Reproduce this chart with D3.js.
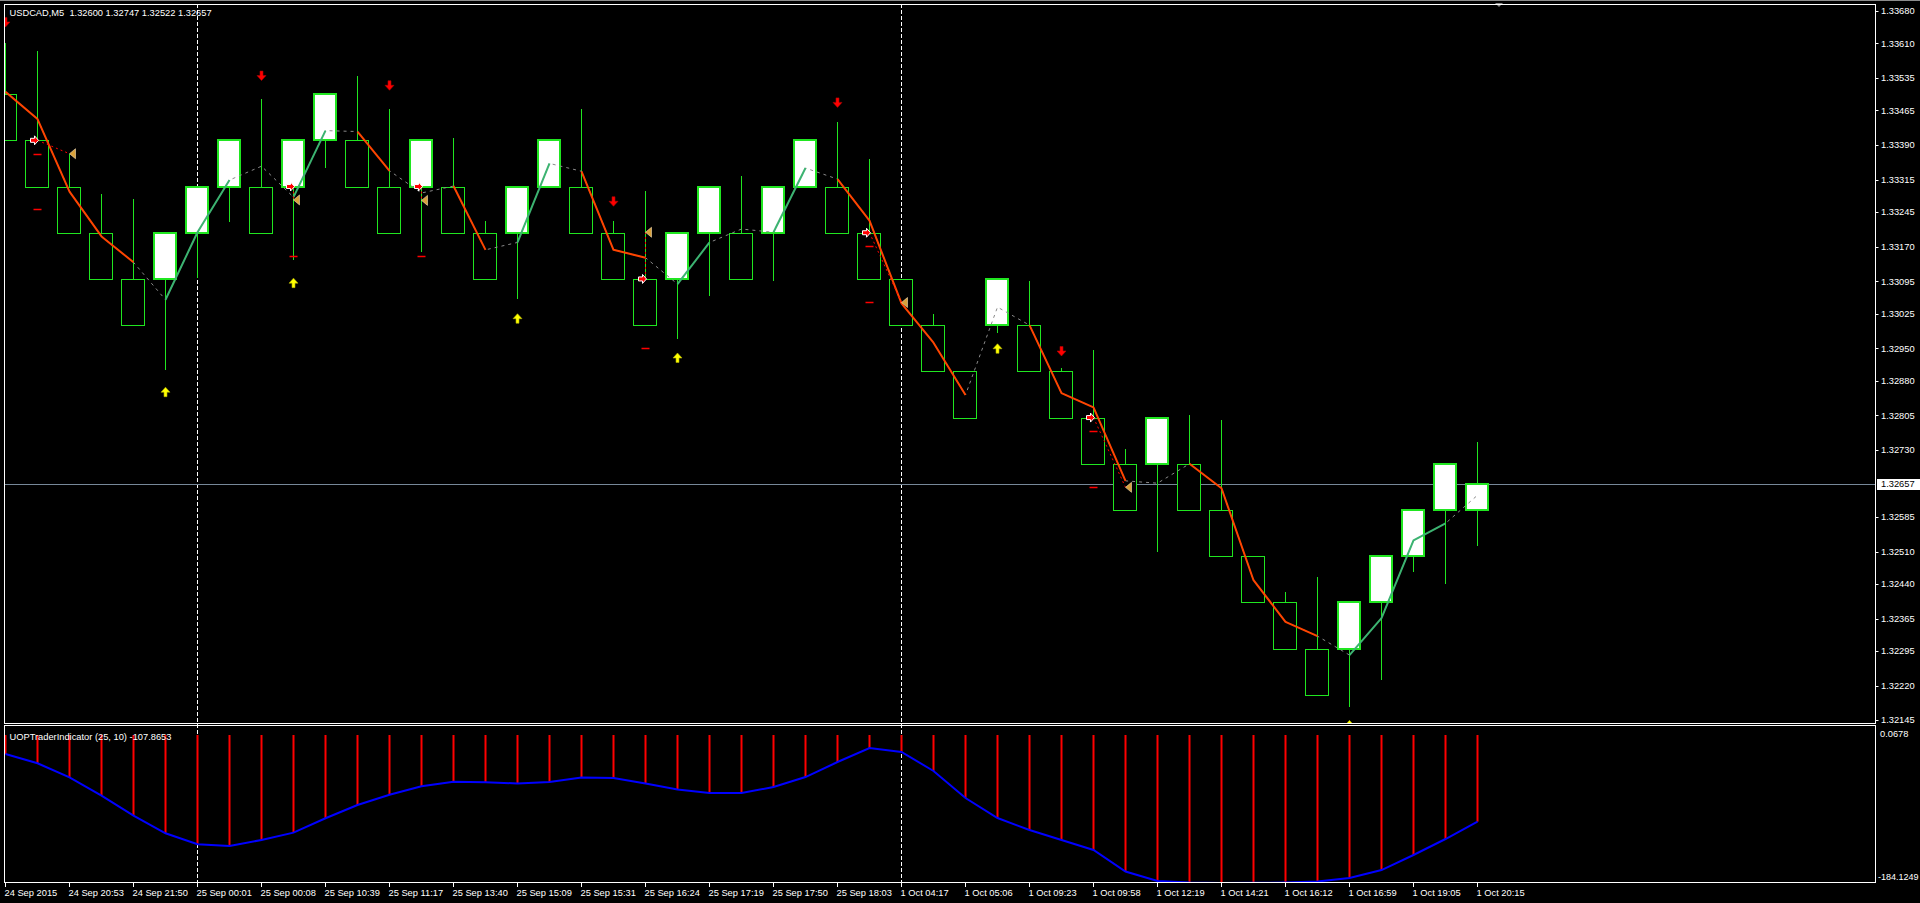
<!DOCTYPE html>
<html>
<head>
<meta charset="utf-8">
<script src="https://cdn.jsdelivr.net/npm/d3@7"></script>
<style>
  html, body { margin: 0; padding: 0; background: #000; overflow: hidden; }
  svg { display: block; }
  text { font-family: "Liberation Sans", Arial, sans-serif; font-size: 9.3px; fill: #fff; white-space: pre; }
</style>
</head>
<body>
<svg id="chart"></svg>
<script>
// ---- data ----
const chartTitle = 'USDCAD,M5  1.32600 1.32747 1.32522 1.32657';
const indTitle = 'UOPTraderIndicator (25, 10) -107.8653';

const opens  = [1.3350, 1.3340, 1.3330, 1.3320, 1.3310, 1.3310, 1.3320, 1.3330, 1.3330, 1.3330,
                1.3340, 1.3340, 1.3330, 1.3330, 1.3330, 1.3320, 1.3320, 1.3330, 1.3330, 1.3320,
                1.3310, 1.3310, 1.3320, 1.3320, 1.3320, 1.3330, 1.3330, 1.3320, 1.3310, 1.3300,
                1.3290, 1.3300, 1.3300, 1.3290, 1.3280, 1.3270, 1.3270, 1.3270, 1.3260, 1.3250,
                1.3240, 1.3230, 1.3230, 1.3240, 1.3250, 1.3260, 1.32600];
const highs  = [1.33610, 1.33594, 1.33371, 1.33284, 1.33273, 1.3320, 1.3330, 1.3340, 1.33490, 1.3340,
                1.3350, 1.33539, 1.33468, 1.3340, 1.33405, 1.33226, 1.3330, 1.3340, 1.33468, 1.33226,
                1.33290, 1.3320, 1.3330, 1.33323, 1.3330, 1.3340, 1.33440, 1.33360, 1.3310, 1.33024,
                1.3290, 1.3310, 1.33096, 1.32907, 1.32946, 1.32732, 1.3280, 1.32806, 1.32795, 1.3250,
                1.32423, 1.32455, 1.3240, 1.3250, 1.3260, 1.3270, 1.32747];
const lows   = [1.3340, 1.3330, 1.3320, 1.3310, 1.3300, 1.32902, 1.33103, 1.33224, 1.3320, 1.33141,
                1.33341, 1.3330, 1.3320, 1.33159, 1.3320, 1.3310, 1.33057, 1.3330, 1.3320, 1.3310,
                1.3300, 1.32970, 1.33064, 1.3310, 1.33095, 1.3330, 1.3320, 1.3310, 1.3300, 1.3290,
                1.3280, 1.32982, 1.3290, 1.3280, 1.3270, 1.3260, 1.32510, 1.3260, 1.3250, 1.3240,
                1.3230, 1.3220, 1.32174, 1.32231, 1.32466, 1.32440, 1.32522];
const closes = [1.3340, 1.3330, 1.3320, 1.3310, 1.3300, 1.3320, 1.3330, 1.3340, 1.3320, 1.3340,
                1.3350, 1.3330, 1.3320, 1.3340, 1.3320, 1.3310, 1.3330, 1.3340, 1.3320, 1.3310,
                1.3300, 1.3320, 1.3330, 1.3310, 1.3330, 1.3340, 1.3320, 1.3310, 1.3300, 1.3290,
                1.3280, 1.3310, 1.3290, 1.3280, 1.3270, 1.3260, 1.3280, 1.3260, 1.3250, 1.3240,
                1.3230, 1.3220, 1.3240, 1.3250, 1.3260, 1.3270, 1.32657];

// moving average line and the trend of each segment (d = falling, u = rising, n = flat)
const maValues = [1.33505, 1.33446, 1.33289, 1.33192, 1.33136, 1.33055, 1.33201, 1.33314, 1.33344, 1.33277,
                  1.33421, 1.33419, 1.33334, 1.33286, 1.33301, 1.33163, 1.33179, 1.33350, 1.33333, 1.33163,
                  1.33146, 1.33089, 1.33179, 1.33208, 1.33201, 1.33340, 1.33316, 1.33226, 1.33047, 1.32962,
                  1.32849, 1.33039, 1.33000, 1.32853, 1.32822, 1.32663, 1.32658, 1.32700, 1.32647, 1.32448,
                  1.32358, 1.32327, 1.32286, 1.32366, 1.32534, 1.32571, 1.32632];
const maTrend = 'ddddnuunnundnndnunddnunnunddddnnddd nnddddnuuun'.replace(/ /g, '').split('');

// signal arrows
const sellIdx   = [0, 8, 12, 19, 26, 33];
const sellLevel = [1.33655, 1.33539, 1.33518, 1.33267, 1.33481, 1.32943];
const buyIdx    = [5, 9, 16, 21, 31, 42];
const buyLevel  = [1.32856, 1.33092, 1.33015, 1.32930, 1.32950, 1.32135];

// trades: entry arrow, exit triangle, and level dashes
const tradeOpenIdx    = [1, 9, 13, 20, 27, 34];
const tradeOpenPrice  = [1.3340, 1.3330, 1.3330, 1.3310, 1.3320, 1.3280];
const tradeCloseIdx   = [2, 9, 13, 20, 28, 35];
const tradeClosePrice = [1.33371, 1.33271, 1.33270, 1.33201, 1.33049, 1.32649];
const dashIdx   = [1, 1, 9, 13, 20, 27, 27, 34, 34];
const dashPrice = [1.33370, 1.33251, 1.33149, 1.33149, 1.32950, 1.33171, 1.33050, 1.32770, 1.32650];

// oscillator
const indValues = [-23.6, -35.2, -52.6, -75.5, -100.4, -122.3, -136.0, -138.1, -130.6, -121.5,
                   -103.6, -87.1, -74.3, -63.8, -58.1, -58.8, -60.3, -58.5, -52.9, -53.5,
                   -60.3, -67.8, -72.2, -72.2, -64.7, -52.3, -33.6, -16.2, -21.1, -44.8,
                   -78.4, -103.3, -118.2, -130.6, -143.1, -169.8, -181.6, -183.5, -184.1249, -183.9,
                   -183.5, -182.3, -177.9, -168.0, -149.3, -129.4, -107.8653];
const indMax = 0.0678, indMin = -184.1249;

const priceTicks = [1.33680, 1.33610, 1.33535, 1.33465, 1.33390, 1.33315, 1.33245, 1.33170, 1.33095,
                    1.33025, 1.32950, 1.32880, 1.32805, 1.32730, 1.32585, 1.32510, 1.32440, 1.32365,
                    1.32295, 1.32220, 1.32145];
const lastPrice = 1.32657;
const timeLabels = ['24 Sep 2015', '24 Sep 20:53', '24 Sep 21:50', '25 Sep 00:01', '25 Sep 00:08',
                    '25 Sep 10:39', '25 Sep 11:17', '25 Sep 13:40', '25 Sep 15:09', '25 Sep 15:31',
                    '25 Sep 16:24', '25 Sep 17:19', '25 Sep 17:50', '25 Sep 18:03', '1 Oct 04:17',
                    '1 Oct 05:06', '1 Oct 09:23', '1 Oct 09:58', '1 Oct 12:19', '1 Oct 14:21',
                    '1 Oct 16:12', '1 Oct 16:59', '1 Oct 19:05', '1 Oct 20:15'];
const separatorIdx = [6, 28];

// ---- layout ----
const W = 1920, H = 903;
const left = 4, right = 1875;
const mainTop = 4, mainBottom = 723;
const indTop = 725, indBottom = 882;
const green = '#20e620';

const svg = d3.select('#chart').attr('width', W).attr('height', H);
svg.append('rect').attr('width', W).attr('height', H).attr('fill', '#000');

const defs = svg.append('defs');
defs.append('clipPath').attr('id', 'clipMain').append('rect')
  .attr('x', left + 1).attr('y', mainTop + 1).attr('width', right - left - 1).attr('height', mainBottom - mainTop - 1);
defs.append('clipPath').attr('id', 'clipInd').append('rect')
  .attr('x', left + 1).attr('y', indTop + 1).attr('width', right - left - 1).attr('height', indBottom - indTop);

const n = opens.length;
const x = d3.scaleLinear().domain([0, n - 1]).range([5.5, 5.5 + 32 * (n - 1)]);
const y = d3.scaleLinear().domain([1.32139, 1.33695]).range([mainBottom, mainTop]);
const yi = d3.scaleLinear().domain([indMin, 0]).range([883, 735]);
const px = v => Math.round(v) + 0.5;

// top strip + chart shift mark
svg.append('rect').attr('x', 0).attr('y', 0).attr('width', W).attr('height', 1).attr('fill', '#8c8c8c');
svg.append('path').attr('d', 'M1495,3L1503,3L1499,7Z').attr('fill', '#8c8c8c');

// period separators
svg.append('g').selectAll('line').data(separatorIdx).enter().append('line')
  .attr('x1', d => x(d)).attr('x2', d => x(d))
  .attr('y1', mainTop).attr('y2', indBottom)
  .attr('stroke', '#fff').attr('stroke-dasharray', '4,2');

// ---- main panel ----
const main = svg.append('g').attr('clip-path', 'url(#clipMain)');

main.append('line')
  .attr('x1', left).attr('x2', right)
  .attr('y1', px(y(lastPrice))).attr('y2', px(y(lastPrice)))
  .attr('stroke', '#778899');

const candles = opens.map((o, i) => ({ i, o, h: highs[i], l: lows[i], c: closes[i], up: closes[i] > o }));

main.selectAll('line.wick').data(candles).enter().append('line')
  .attr('class', 'wick')
  .attr('x1', d => x(d.i)).attr('x2', d => x(d.i))
  .attr('y1', d => Math.round(y(d.h))).attr('y2', d => Math.round(y(d.l)))
  .attr('stroke', green);

main.selectAll('rect.body').data(candles).enter().append('rect')
  .attr('class', 'body')
  .attr('x', d => d.up ? x(d.i) - 11.5 : x(d.i) - 12)
  .attr('width', d => d.up ? 22 : 23)
  .attr('y', d => d.up ? Math.round(y(Math.max(d.o, d.c))) : px(y(Math.max(d.o, d.c))))
  .attr('height', d => Math.round(y(Math.min(d.o, d.c))) - Math.round(y(Math.max(d.o, d.c))))
  .attr('fill', d => d.up ? '#fff' : '#000')
  .attr('stroke', green)
  .attr('stroke-width', d => d.up ? 2 : 1);

// moving average: grey dotted base, coloured trend runs on top
const maPts = maValues.map((v, i) => [x(i), y(v)]);
const line = d3.line();
main.append('path').attr('d', line(maPts))
  .attr('fill', 'none').attr('stroke', '#8a8a8a').attr('stroke-dasharray', '3,4');

const runs = [];
maTrend.forEach((t, k) => {
  if (t === 'n') return;
  const last = runs[runs.length - 1];
  if (last && last.t === t && last.end === k) last.end = k + 1;
  else runs.push({ t, start: k, end: k + 1 });
});
main.selectAll('path.run').data(runs).enter().append('path')
  .attr('class', 'run')
  .attr('d', r => line(maPts.slice(r.start, r.end + 1)))
  .attr('fill', 'none')
  .attr('stroke', r => r.t === 'd' ? '#ff4500' : '#3cb371')
  .attr('stroke-width', 2)
  .attr('stroke-linejoin', 'round');

// trades
const trades = tradeOpenIdx.map((o, k) => ({ o, op: tradeOpenPrice[k], c: tradeCloseIdx[k], cp: tradeClosePrice[k] }));
main.selectAll('line.trade').data(trades).enter().append('line')
  .attr('x1', d => x(d.o)).attr('y1', d => y(d.op))
  .attr('x2', d => x(d.c)).attr('y2', d => y(d.cp))
  .attr('stroke', '#ff0000').attr('stroke-dasharray', '2,3');

main.selectAll('line.dash').data(dashIdx).enter().append('line')
  .attr('x1', d => x(d) - 4).attr('x2', d => x(d) + 4)
  .attr('y1', (d, k) => px(y(dashPrice[k]))).attr('y2', (d, k) => px(y(dashPrice[k])))
  .attr('stroke', '#ff0000').attr('stroke-width', 1.5);

main.selectAll('path.exit').data(trades).enter().append('path')
  .attr('d', 'M0,0L6,-5L6,5Z')
  .attr('transform', d => `translate(${x(d.c)},${y(d.cp)})`)
  .attr('fill', '#d9a13a').attr('stroke', '#f5deb3').attr('stroke-width', 0.6);

main.selectAll('path.entry').data(trades).enter().append('path')
  .attr('d', 'M0,0L-4,-4.5L-4,-2L-8,-2L-8,2L-4,2L-4,4.5Z')
  .attr('transform', d => `translate(${x(d.o) + 1},${y(d.op)})`)
  .attr('fill', '#ff0000').attr('stroke', '#fff').attr('stroke-width', 1);

// signal arrows
const arrowDown = 'M-1.5,-5L1.5,-5L1.5,-0.5L4.5,-0.5L0,4.5L-4.5,-0.5L-1.5,-0.5Z';
main.selectAll('path.sell').data(sellIdx).enter().append('path')
  .attr('d', arrowDown)
  .attr('transform', (d, k) => `translate(${x(d)},${y(sellLevel[k])})`)
  .attr('fill', '#ff0000').attr('stroke', '#b00000').attr('stroke-width', 0.6);
main.selectAll('path.buy').data(buyIdx).enter().append('path')
  .attr('d', arrowDown)
  .attr('transform', (d, k) => `translate(${x(d)},${y(buyLevel[k])}) scale(1,-1)`)
  .attr('fill', '#ffff00').attr('stroke', '#b0b000').attr('stroke-width', 0.6);

// ---- indicator panel ----
const ind = svg.append('g').attr('clip-path', 'url(#clipInd)');
ind.selectAll('line.hist').data(indValues).enter().append('line')
  .attr('x1', (d, i) => x(i)).attr('x2', (d, i) => x(i))
  .attr('y1', yi(0)).attr('y2', d => yi(d))
  .attr('stroke', '#ff0000').attr('stroke-width', 2);
ind.append('path')
  .attr('d', d3.line().x((d, i) => x(i)).y(d => yi(d))(indValues))
  .attr('fill', 'none').attr('stroke', '#0000ff').attr('stroke-width', 2);

// ---- frames ----
svg.append('rect').attr('x', left + 0.5).attr('y', mainTop + 0.5)
  .attr('width', right - left).attr('height', mainBottom - mainTop)
  .attr('fill', 'none').attr('stroke', '#fff');
svg.append('rect').attr('x', left + 0.5).attr('y', indTop + 0.5)
  .attr('width', right - left).attr('height', indBottom - indTop)
  .attr('fill', 'none').attr('stroke', '#fff');

// ---- price axis ----
const pAxis = svg.append('g');
pAxis.selectAll('line').data(priceTicks).enter().append('line')
  .attr('x1', right + 0.5).attr('x2', right + 3.5)
  .attr('y1', d => px(y(d))).attr('y2', d => px(y(d)))
  .attr('stroke', '#fff');
pAxis.selectAll('text').data(priceTicks).enter().append('text')
  .attr('x', right + 6).attr('y', d => y(d)).attr('dy', '0.35em')
  .text(d => d.toFixed(5));

svg.append('rect').attr('x', right + 2).attr('y', px(y(lastPrice)) - 5.5)
  .attr('width', W - right - 2).attr('height', 11).attr('fill', '#fff');
svg.append('text').attr('x', right + 6).attr('y', y(lastPrice) + 0.5).attr('dy', '0.35em')
  .style('fill', '#000').text(lastPrice.toFixed(5));

// indicator scale labels
svg.append('text').attr('x', right + 5).attr('y', yi(indMax) - 1).attr('dy', '0.35em').text(indMax.toFixed(4));
svg.append('text').attr('x', right + 3).attr('y', yi(indMin) - 6).attr('dy', '0.35em')
  .style('font-size', '9px').text(indMin.toFixed(4));

// ---- time axis ----
const tAxis = svg.append('g');
tAxis.selectAll('line').data(timeLabels).enter().append('line')
  .attr('x1', (d, k) => x(k * 2)).attr('x2', (d, k) => x(k * 2))
  .attr('y1', indBottom + 1).attr('y2', indBottom + 5)
  .attr('stroke', '#fff');
tAxis.selectAll('text').data(timeLabels).enter().append('text')
  .attr('x', (d, k) => x(k * 2) - 1).attr('y', 896)
  .text(d => d);

// ---- titles ----
svg.append('text').attr('x', 9.5).attr('y', 16).text(chartTitle);
svg.append('text').attr('x', 9.5).attr('y', 739.5).text(indTitle);
</script>
</body>
</html>
